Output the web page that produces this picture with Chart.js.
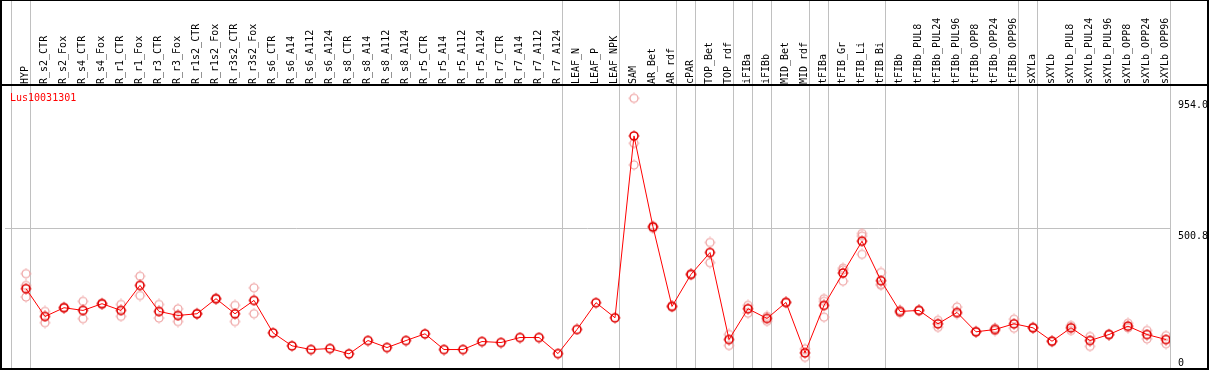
<!DOCTYPE html>
<html>
<head>
<meta charset="utf-8">
<title>Lus10031301</title>
<script src="https://cdn.jsdelivr.net/npm/chart.js@4/dist/chart.umd.min.js"></script>
<style>
  html, body { margin: 0; padding: 0; background: #fff; }
  #wrap { width: 1209px; height: 370px; }
</style>
</head>
<body>
<div id="wrap"><canvas id="expChart" width="1209" height="370"></canvas></div>
<script>
const geneName = "Lus10031301";

const categories = [
  "HYP", "R_s2_CTR", "R_s2_Fox", "R_s4_CTR", "R_s4_Fox", "R_r1_CTR", "R_r1_Fox", "R_r3_CTR", "R_r3_Fox",
  "R_r1s2_CTR", "R_r1s2_Fox", "R_r3s2_CTR", "R_r3s2_Fox", "R_s6_CTR", "R_s6_A14", "R_s6_A112", "R_s6_A124",
  "R_s8_CTR", "R_s8_A14", "R_s8_A112", "R_s8_A124", "R_r5_CTR", "R_r5_A14", "R_r5_A112", "R_r5_A124",
  "R_r7_CTR", "R_r7_A14", "R_r7_A112", "R_r7_A124", "LEAF_N", "LEAF_P", "LEAF_NPK", "SAM", "AR_Bet", "AR_rdf",
  "cPAR", "TOP_Bet", "TOP_rdf", "iFIBa", "iFIBb", "MID_Bet", "MID_rdf", "tFIBa", "tFIB_Gr", "tFIB_Li", "tFIB_Bi",
  "tFIBb", "tFIBb_PUL8", "tFIBb_PUL24", "tFIBb_PUL96", "tFIBb_OPP8", "tFIBb_OPP24", "tFIBb_OPP96",
  "sXYLa", "sXYLb", "sXYLb_PUL8", "sXYLb_PUL24", "sXYLb_PUL96", "sXYLb_OPP8", "sXYLb_OPP24", "sXYLb_OPP96"
];

// mean expression per sample (red line)
const meanValues = [
  294, 197.5, 227.8, 218.4, 241.7, 218.4, 305.3, 214.9, 201, 206.9, 259.1, 206.9, 253.2, 140.8, 95.6, 82.8,
  86.2, 67.8, 114, 89.7, 114, 137.3, 82.8, 82.8, 110.6, 107.1, 124.5, 124.5, 68.8, 152.3, 245.2, 193,
  823.6, 508.1, 232.3, 343.6, 419.1, 117.5, 224.3, 190.6, 246.2, 71.3, 235.8, 348.1, 458.4, 321.7,
  214.9, 218.4, 172.1, 211.4, 144.3, 152.3, 172.1, 158.2, 111.6, 158.2, 114, 134.9, 163.8, 134.9, 117.5
];

// replicates (light circles)
const rep1 = [
  346, 215, 230, 250, 244, 239, 337, 239, 224, 208, 261, 236, 297, null, null, null,
  null, null, null, null, null, null, null, null, null, null, null, null, null, null, null, null,
  954, 512, 235, 346, 454, 135, 236, 198, 248, 85, 259, 365, 485, 350,
  219, 220, 184, 230, 146, 157, 188, 160, 113, 166, 128, 136, 174, 149, 131
];
const rep2 = [
  305, 176, 226, 190, 239, 198, 270, 192, 180, 206, 257, 180, 207, null, null, null,
  null, null, null, null, null, null, null, null, null, null, null, null, null, null, null, null,
  798, 503, 230, 341, 384, 97, 209, 181, 245, 56, 250, 359, 476, 309,
  210, 217, 160, 207, 143, 148, 157, 157, 110, 149, 94, 134, 158, 120, 103
];
const rep3 = [
  265, null, null, null, null, null, null, null, null, null, null, null, null, null, null, null,
  null, null, null, null, null, null, null, null, null, null, null, null, null, null, null, null,
  723, null, null, null, null, null, null, null, null, null, 195, 320, 413, 306,
  null, null, null, null, null, null, null, null, null, null, null, null, null, null, null
];

const tickValues = [954.0, 500.8, 60];
const tickLabels = ["954.0", "500.8", "0"];

// sample groups end after these indexes (grey separators)
const groupBreaks = [-1, 0, 28, 31, 34, 35, 37, 38, 39, 41, 42, 45, 52, 53, 60];

const monoFont = { family: "'DejaVu Sans Mono', monospace", size: 10 };

function makeMarker(color, width) {
  const m = document.createElement('canvas');
  m.width = 12;
  m.height = 12;
  const g = m.getContext('2d');
  g.strokeStyle = color;
  g.lineWidth = width;
  g.beginPath();
  g.arc(6, 6, 4, 0, Math.PI * 2);
  g.stroke();
  // little spurs on the circle
  g.fillStyle = color;
  g.fillRect(5.5, 0.5, 1, 1);
  g.fillRect(5.5, 10.5, 1, 1);
  g.fillRect(0.5, 5.5, 1, 1);
  g.fillRect(10.5, 5.5, 1, 1);
  return m;
}

const mainMarker = makeMarker('#e00000', 1.6);
const repMarker = makeMarker('#eea0a0', 1.2);

function toPoints(arr) {
  return arr.map((v, i) => ({ x: i, y: v })).filter(p => p.y !== null);
}

// keep chart.js from adding room for the rotated / edge labels
function noPadding(scale) {
  scale.paddingLeft = 0;
  scale.paddingRight = 0;
  scale.paddingTop = 0;
  scale.paddingBottom = 0;
}

const groupLines = {
  id: 'groupLines',
  beforeDatasetsDraw(chart) {
    const xs = chart.scales.x;
    const c = chart.ctx;
    c.save();
    c.strokeStyle = '#c0c0c0';
    c.lineWidth = 1;
    groupBreaks.forEach(b => {
      const px = Math.round(xs.getPixelForValue(b + 4 / 19)) + 0.5;
      c.beginPath();
      c.moveTo(px, 0);
      c.lineTo(px, chart.height - 2);
      c.stroke();
    });
    c.restore();
  }
};

const frame = {
  id: 'frame',
  afterDraw(chart) {
    const c = chart.ctx;
    const a = chart.chartArea;
    c.save();
    c.fillStyle = '#000';
    c.fillRect(0, 0, chart.width, 1);
    c.fillRect(0, a.top - 2, chart.width, 2); // line under the header
    c.fillRect(0, 0, 2, chart.height);
    c.fillRect(chart.width - 2, 0, 2, chart.height);
    c.fillRect(0, chart.height - 2, chart.width, 2);
    c.fillStyle = '#ff0000';
    c.font = "10px 'DejaVu Sans Mono'";
    c.textBaseline = 'alphabetic';
    c.fillText(geneName, 10, 101);
    c.restore();
  }
};

const ctx = document.getElementById('expChart').getContext('2d');
const chart = new Chart(ctx, {
  type: 'line',
  data: {
    datasets: [
      {
        label: 'mean',
        data: toPoints(meanValues),
        borderColor: '#ff0000',
        borderWidth: 1,
        tension: 0,
        pointStyle: mainMarker
      },
      {
        label: 'rep1',
        data: toPoints(rep1),
        showLine: false,
        pointStyle: repMarker
      },
      {
        label: 'rep2',
        data: toPoints(rep2),
        showLine: false,
        pointStyle: repMarker
      },
      {
        label: 'rep3',
        data: toPoints(rep3),
        showLine: false,
        pointStyle: repMarker
      }
    ]
  },
  options: {
    responsive: false,
    animation: false,
    devicePixelRatio: 1,
    layout: { padding: { left: 1, right: 2, top: 1, bottom: 2 } },
    plugins: {
      legend: { display: false },
      tooltip: { enabled: false }
    },
    scales: {
      x: {
        type: 'linear',
        position: 'top',
        // chart area ends up 5..1170, samples every 19px from x=26
        min: -21 / 19,
        max: 60 + 4 / 19,
        afterBuildTicks: scale => {
          scale.ticks = categories.map((c, i) => ({ value: i }));
        },
        afterFit: scale => {
          scale.height = 85;
          noPadding(scale);
        },
        grid: { display: false, drawTicks: false },
        border: { display: false },
        ticks: {
          autoSkip: false,
          minRotation: 90,
          maxRotation: 90,
          padding: 2,
          labelOffset: 11,
          color: '#000',
          font: monoFont,
          callback: v => categories[v]
        }
      },
      y: {
        type: 'linear',
        position: 'right',
        min: 29.2,
        max: 996.65,
        afterBuildTicks: scale => {
          scale.ticks = tickValues.map(v => ({ value: v }));
        },
        afterFit: scale => {
          scale.width = 37;
          noPadding(scale);
        },
        grid: {
          color: c => (c.tick && c.tick.value === 500.8) ? '#c0c0c0' : 'rgba(0,0,0,0)',
          drawTicks: false,
          lineWidth: 1
        },
        border: { display: false },
        ticks: {
          padding: 8,
          labelOffset: 7,
          color: '#000',
          font: monoFont,
          callback: (v, i) => tickLabels[i]
        }
      }
    }
  },
  plugins: [groupLines, frame]
});
</script>
</body>
</html>
